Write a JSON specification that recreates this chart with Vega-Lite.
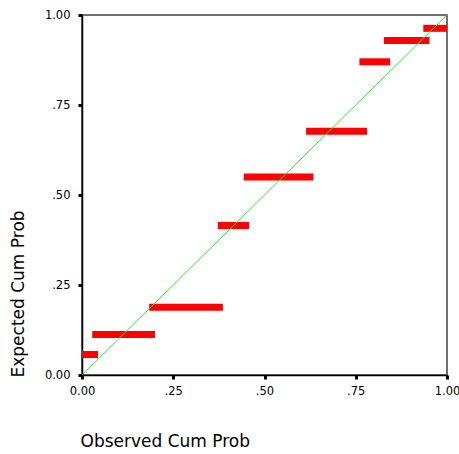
{
  "$schema": "https://vega.github.io/schema/vega-lite/v6.json",
  "autosize": {"type": "none"},
  "width": 365,
  "height": 360,
  "padding": {"left": 82, "top": 15, "right": 12, "bottom": 79},
  "background": "white",
  "config": {
    "view": {"stroke": "#404040", "strokeWidth": 1.5},
    "font": "DejaVu Sans"
  },
  "datasets": {
    "bars": [
      {"x0": 0.0, "x1": 0.044, "y": 0.057},
      {"x0": 0.028, "x1": 0.2, "y": 0.1125},
      {"x0": 0.184, "x1": 0.386, "y": 0.188},
      {"x0": 0.372, "x1": 0.458, "y": 0.415},
      {"x0": 0.443, "x1": 0.634, "y": 0.55},
      {"x0": 0.614, "x1": 0.781, "y": 0.677},
      {"x0": 0.76, "x1": 0.844, "y": 0.87},
      {"x0": 0.827, "x1": 0.952, "y": 0.929},
      {"x0": 0.935, "x1": 1.0, "y": 0.963}
    ],
    "diag": [
      {"x": 0, "y": 0},
      {"x": 1, "y": 1}
    ]
  },
  "layer": [
    {
      "data": {"name": "bars"},
      "mark": {"type": "rule", "color": "#ff0000", "strokeWidth": 7, "strokeCap": "butt"},
      "encoding": {
        "x": {
          "field": "x0", "type": "quantitative",
          "scale": {"domain": [0, 1], "nice": false, "zero": false},
          "axis": {
            "title": "Observed Cum Prob",
            "titleFont": "DejaVu Sans", "titleFontSize": 17, "titleFontWeight": "normal", "titleColor": "black",
            "titleAnchor": "start", "titleAlign": "left", "titleX": -2, "titleY": 58,
            "values": [0, 0.25, 0.5, 0.75, 1],
            "labelExpr": "datum.value == 0 ? '0.00' : datum.value == 1 ? '1.00' : replace(format(datum.value, '.2f'), '0.', '.')",
            "labelFont": "DejaVu Sans", "labelFontSize": 11.5, "labelColor": "black", "labelPadding": 6,
            "labelFlush": false,
            "domainColor": "black", "domainWidth": 1.5,
            "tickColor": "black", "tickSize": 4, "tickWidth": 3,
            "grid": false
          }
        },
        "x2": {"field": "x1"},
        "y": {
          "field": "y", "type": "quantitative",
          "scale": {"domain": [0, 1], "nice": false, "zero": false},
          "axis": {
            "title": "Expected Cum Prob",
            "titleFont": "DejaVu Sans", "titleFontSize": 17, "titleFontWeight": "normal", "titleColor": "black",
            "titleAnchor": "start", "titleX": -64, "titleY": 362, "titleBaseline": "middle",
            "values": [0, 0.25, 0.5, 0.75, 1],
            "labelExpr": "datum.value == 0 ? '0.00' : datum.value == 1 ? '1.00' : replace(format(datum.value, '.2f'), '0.', '.')",
            "labelFont": "DejaVu Sans", "labelFontSize": 11.5, "labelColor": "black", "labelPadding": 8,
            "labelFlush": false,
            "domainColor": "black", "domainWidth": 1.5,
            "tickColor": "black", "tickSize": 4, "tickWidth": 3,
            "grid": false
          }
        }
      }
    },
    {
      "data": {"name": "diag"},
      "mark": {"type": "line", "color": "#22ee22", "strokeWidth": 1},
      "encoding": {
        "x": {"field": "x", "type": "quantitative"},
        "y": {"field": "y", "type": "quantitative"}
      }
    }
  ]
}
